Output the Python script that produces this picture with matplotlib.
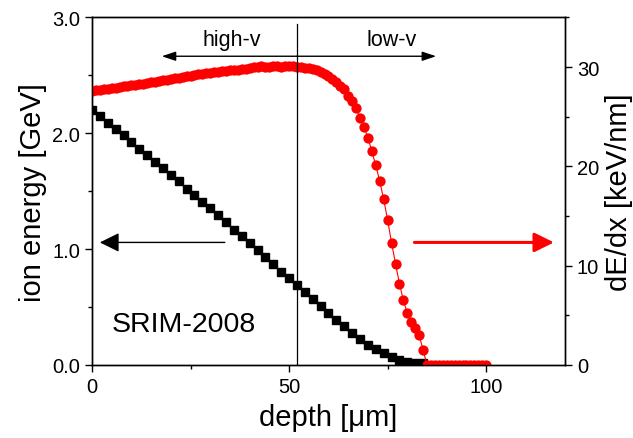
import matplotlib
matplotlib.use("Agg")
import matplotlib.pyplot as plt
from matplotlib.ticker import MultipleLocator, FormatStrFormatter

plt.rcParams['font.family'] = ['Liberation Sans', 'DejaVu Sans']

# ion energy (GeV) vs depth (um), SRIM-2008
energy_depth = [0, 2, 4, 6, 8, 10, 12, 14, 16, 18, 20, 22, 24, 26, 28, 30, 32, 34,
                36, 38, 40, 42, 44, 46, 48, 50, 52, 54, 56, 58, 60, 62, 64, 66, 68,
                70, 72, 74, 76, 78, 80, 82, 84]
energy = [2.198, 2.149, 2.092, 2.034, 1.986, 1.925, 1.868, 1.810, 1.756, 1.701,
          1.644, 1.589, 1.523, 1.466, 1.411, 1.351, 1.297, 1.233, 1.165, 1.110,
          1.050, 0.995, 0.928, 0.868, 0.807, 0.747, 0.690, 0.626, 0.566, 0.507,
          0.448, 0.390, 0.333, 0.279, 0.227, 0.175, 0.135, 0.100, 0.066, 0.045,
          0.028, 0.020, 0.016]

# stopping power dE/dx (keV/nm) vs depth (um)
dedx_depth = list(range(0, 101))
dedx = [27.6, 27.7, 27.7, 27.8, 27.8, 27.9, 27.9, 28.0, 28.1, 28.1, 28.2,
        28.2, 28.3, 28.3, 28.4, 28.5, 28.5, 28.6, 28.7, 28.7, 28.8,
        28.9, 28.9, 29.0, 29.1, 29.1, 29.2, 29.3, 29.3, 29.4, 29.4,
        29.5, 29.5, 29.6, 29.6, 29.7, 29.7, 29.7, 29.8, 29.8, 29.9,
        30.0, 30.0, 30.1, 30.0, 30.0, 30.1, 30.1, 30.0, 30.1, 30.1,
        30.1, 30.0, 30.0, 29.9, 29.9, 29.8, 29.7, 29.5, 29.3, 29.1, 28.8, 28.5,
        28.1, 27.8, 27.1, 26.6, 25.9, 24.9, 24.0, 22.9, 21.5, 20.1, 18.5,
        16.7, 14.6, 12.3, 10.2, 8.2, 6.5, 5.2, 4.3, 3.7, 3.0, 1.5,
        0, 0, 0, 0, 0, 0, 0, 0, 0, 0, 0, 0, 0, 0, 0, 0]

x_ticks = [0, 50, 100]
y_left_ticks = [0.0, 1.0, 2.0, 3.0]
y_right_ticks = [0, 10, 20, 30]

fig = plt.figure(figsize=(6.33, 4.39), dpi=100)
ax = fig.add_axes([0.1453, 0.1663, 0.7473, 0.7917])
ax2 = ax.twinx()

ax.plot(energy_depth, energy, color='black', marker='s', markersize=5.2,
        linestyle='-', linewidth=0.8)
ax2.plot(dedx_depth, dedx, color='red', marker='o', markersize=7.4,
         markeredgewidth=0, linestyle='-', linewidth=0.8)

ax.set_xlim(0, 120)
ax.set_ylim(0, 3.0)
ax2.set_ylim(0, 35)

ax.set_xticks(x_ticks)
ax.set_yticks(y_left_ticks)
ax2.set_yticks(y_right_ticks)
ax.xaxis.set_minor_locator(MultipleLocator(25))
ax.yaxis.set_minor_locator(MultipleLocator(0.5))
ax2.yaxis.set_minor_locator(MultipleLocator(5))
ax.yaxis.set_major_formatter(FormatStrFormatter('%.1f'))

for a in (ax, ax2):
    a.tick_params(which='major', direction='out', length=5, width=1.0,
                  labelsize=14.5)
    a.tick_params(which='minor', direction='out', length=3, width=1.0)
    for s in a.spines.values():
        s.set_linewidth(1.0)

ax.set_xlabel('depth [μm]', fontsize=21, labelpad=5)
ax.set_ylabel('ion energy [GeV]', fontsize=21, labelpad=4)
ax2.set_ylabel('dE/dx [keV/nm]', fontsize=21, labelpad=4)

T = ax.transData
# vertical separator
ax2.plot([52, 52], [0, 2.94], color='black', linewidth=0.9, transform=T)

# high-v / low-v arrows
ax2.annotate('', xy=(17.7, 2.665), xytext=(52, 2.665), xycoords=T, textcoords=T,
             arrowprops=dict(arrowstyle='-|>,head_length=0.6,head_width=0.2',
                             color='black', lw=1.0, shrinkA=0, shrinkB=0,
                             mutation_scale=14))
ax2.annotate('', xy=(87.3, 2.665), xytext=(52, 2.665), xycoords=T, textcoords=T,
             arrowprops=dict(arrowstyle='-|>,head_length=0.6,head_width=0.2',
                             color='black', lw=1.0, shrinkA=0, shrinkB=0,
                             mutation_scale=14))
ax2.text(35.4, 2.76, 'high-v', fontsize=15.5, ha='center', va='baseline', transform=T)
ax2.text(76.0, 2.76, 'low-v', fontsize=15.5, ha='center', va='baseline', transform=T)

# axis indicator arrows
ax2.annotate('', xy=(2.0, 1.058), xytext=(33.7, 1.058), xycoords=T, textcoords=T,
             arrowprops=dict(arrowstyle='-|>,head_length=0.85,head_width=0.42',
                             color='black', lw=1.0, shrinkA=0, shrinkB=0,
                             mutation_scale=14))
ax2.annotate('', xy=(117.2, 1.058), xytext=(81.8, 1.058), xycoords=T, textcoords=T,
             arrowprops=dict(arrowstyle='-|>,head_length=0.85,head_width=0.42',
                             color='red', lw=2.2, shrinkA=0, shrinkB=0,
                             mutation_scale=14))

ax2.text(5.1, 0.296, 'SRIM-2008', fontsize=20.5, ha='left', va='baseline', transform=T)

fig.savefig('out.png', dpi=100)
